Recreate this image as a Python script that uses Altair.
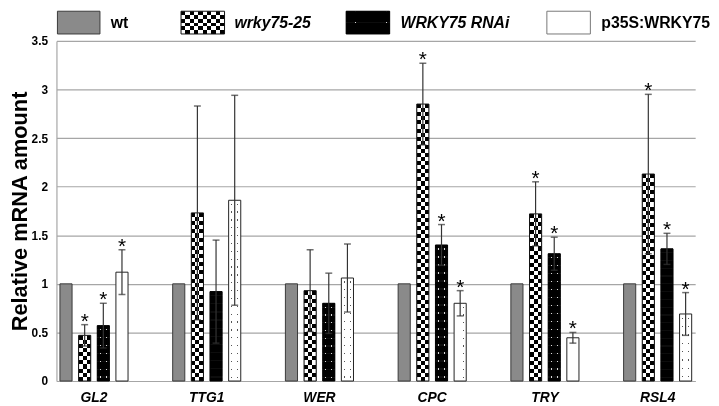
import altair as alt
import pandas as pd

FONT = "Liberation Sans"

# ---------------- data ----------------
genes = ["GL2", "TTG1", "WER", "CPC", "TRY", "RSL4"]
series = ["wt", "wrky75-25", "WRKY75 RNAi", "p35S:WRKY75"]

wt_vals = [1, 1, 1, 1, 1, 1]
wt_err = [0, 0, 0, 0, 0, 0]
wrky_vals = [0.47, 1.73, 0.93, 2.85, 1.72, 2.13]
wrky_err = [0.11, 1.10, 0.42, 0.42, 0.33, 0.82]
rnai_vals = [0.57, 0.92, 0.80, 1.40, 1.31, 1.36]
rnai_err = [0.23, 0.53, 0.31, 0.21, 0.17, 0.16]
p35_vals = [1.12, 1.86, 1.06, 0.80, 0.445, 0.69]
p35_err = [0.23, 1.08, 0.35, 0.13, 0.055, 0.22]
wt_sig = [0, 0, 0, 0, 0, 0]
wrky_sig = [1, 0, 0, 1, 1, 1]
rnai_sig = [1, 0, 0, 1, 1, 1]
p35_sig = [1, 0, 0, 1, 1, 1]

y_ticks = [0, 0.5, 1, 1.5, 2, 2.5, 3, 3.5]

rows = []
for s, vals, errs, sigs in [
    ("wt", wt_vals, wt_err, wt_sig),
    ("wrky75-25", wrky_vals, wrky_err, wrky_sig),
    ("WRKY75 RNAi", rnai_vals, rnai_err, rnai_sig),
    ("p35S:WRKY75", p35_vals, p35_err, p35_sig),
]:
    for g, v, e, sg in zip(genes, vals, errs, sigs):
        rows.append({"gene": g, "series": s, "value": v, "lo": v - e, "hi": v + e, "sig": sg})
df = pd.DataFrame(rows)

# ---------------- layout / style ----------------
W, H = 646, 344
PX_PER_UNIT = H / 3.5
CELL = 4.1        # checkerboard cell (px)
DOT_ROW = 8.0     # dot row pitch (px)


def _grad(stops, along_y):
    if along_y:
        return alt.LinearGradient(gradient="linear", stops=stops, x1=0, x2=0, y1=0, y2=1)
    return alt.LinearGradient(gradient="linear", stops=stops, x1=0, x2=1, y1=0, y2=0)


def stripes(n, along_y):
    stops = []
    for i in range(n):
        c = "#000000" if i % 2 == 0 else "#ffffff"
        stops.append(alt.GradientStop(color=c, offset=i / n))
        stops.append(alt.GradientStop(color=c, offset=(i + 1) / n))
    return _grad(stops, along_y)


def thin_lines(n, duty, bg, fg, along_y):
    """n periods, each with a thin fg band in its middle on bg."""
    stops = []
    for i in range(n):
        a = i / n
        b = (i + 1) / n
        m0 = a + (b - a) * (0.5 - duty / 2)
        m1 = a + (b - a) * (0.5 + duty / 2)
        stops += [alt.GradientStop(color=bg, offset=a), alt.GradientStop(color=bg, offset=m0),
                  alt.GradientStop(color=fg, offset=m0), alt.GradientStop(color=fg, offset=m1),
                  alt.GradientStop(color=bg, offset=m1), alt.GradientStop(color=bg, offset=b)]
    return _grad(stops, along_y)


xscale = alt.Scale(domain=genes, paddingInner=0.396, paddingOuter=0.031)
xoscale = alt.Scale(domain=series, paddingInner=0.35, paddingOuter=0)
yscale = alt.Scale(domain=[0, 3.5], nice=False, zero=True)
xaxis = alt.Axis(labelFont=FONT, labelFontSize=14, labelFontWeight="bold", labelFontStyle="italic",
                 labelColor="black", labelPadding=10, ticks=False, domainColor="#a6a6a6",
                 domainWidth=1.2, labelAngle=0, grid=False)
yaxis = alt.Axis(values=y_ticks, format="~g", grid=True, gridColor="#a6a6a6", gridWidth=1.2,
                 domainColor="#a6a6a6", domainWidth=1.2, ticks=False, labelFont=FONT,
                 labelFontSize=12, labelFontWeight="bold", labelColor="black", labelPadding=9,
                 titleFont=FONT, titleFontSize=22, titleFontWeight="bold", titleColor="black",
                 titlePadding=0)

X = alt.X("gene:N", scale=xscale, axis=xaxis, title=None)
XO = alt.XOffset("series:N", scale=xoscale)


def Y(field):
    return alt.Y(f"{field}:Q", scale=yscale, axis=yaxis, title="Relative mRNA amount")


base = alt.Chart(df)
layers = []


def bars(series_name, **mark):
    return base.transform_filter(f"datum.series == '{series_name}'").mark_bar(**mark).encode(
        x=X, xOffset=XO, y=Y("value"))


def one_bar(series_name, gene, **mark):
    return base.transform_filter(
        f"datum.series == '{series_name}' && datum.gene == '{gene}'").mark_bar(**mark).encode(
        x=X, xOffset=XO, y=Y("value"))


# wt: grey
layers.append(bars("wt", fill="#8a8a8a", stroke="#3a3a3a", strokeWidth=1))

# RNAi: black with sparse white dots (white columns x white rows, multiply)
layers.append(bars("WRKY75 RNAi", fill=thin_lines(2, 0.11, "#0d0d0d", "#d8d8d8", False)))
for g, v in zip(genes, rnai_vals):
    n = max(1, round(v * PX_PER_UNIT / DOT_ROW))
    layers.append(one_bar("WRKY75 RNAi", g, fill=thin_lines(n, 0.15, "#000000", "#ffffff", True),
                          blend="multiply"))
layers.append(bars("WRKY75 RNAi", filled=False, stroke="#000000", strokeWidth=1))

# p35S: white with sparse dark dots (dark columns x dark rows, screen)
layers.append(bars("p35S:WRKY75", fill=thin_lines(2, 0.11, "#ffffff", "#555555", False)))
for g, v in zip(genes, p35_vals):
    n = max(1, round(v * PX_PER_UNIT / DOT_ROW))
    layers.append(one_bar("p35S:WRKY75", g, fill=thin_lines(n, 0.15, "#ffffff", "#000000", True),
                          blend="screen"))
layers.append(bars("p35S:WRKY75", filled=False, stroke="#222222", strokeWidth=1))

# wrky75-25: checkerboard (columns + inverted rows)
layers.append(bars("wrky75-25", fill=stripes(3, False)))
for g, v in zip(genes, wrky_vals):
    n = max(1, round(v * PX_PER_UNIT / CELL))
    layers.append(one_bar("wrky75-25", g, fill=stripes(n, True), blend="difference"))
layers.append(bars("wrky75-25", filled=False, stroke="#111111", strokeWidth=1))

# error bars + significance stars
err = base.transform_filter("datum.series != 'wt'")
layers.append(err.mark_rule(color="#333333", strokeWidth=1.2).encode(
    x=X, xOffset=XO, y=Y("lo"), y2="hi:Q"))
layers.append(err.mark_tick(color="#333333", thickness=1.5, size=7, orient="horizontal").encode(
    x=X, xOffset=XO, y=Y("hi")))
layers.append(err.mark_tick(color="#333333", thickness=1.5, size=7, orient="horizontal").encode(
    x=X, xOffset=XO, y=Y("lo")))
layers.append(base.transform_filter("datum.sig == 1").mark_text(
    text="*", fontSize=21, font=FONT, baseline="alphabetic", dy=3, color="black").encode(
    x=X, xOffset=XO, y=Y("hi")))

# ---------------- legend (manual, styled like the original) ----------------
LEG_Y0, LEG_Y1 = -30, -7
LEG_TY = (LEG_Y0 + LEG_Y1) / 2
leg_pos = {"wt": (1, 44, 55), "wrky75-25": (126, 170, 180),
           "WRKY75 RNAi": (293, 337, 348), "p35S:WRKY75": (496, 540, 551)}
leg_italic = {"wt": False, "wrky75-25": True, "WRKY75 RNAi": True, "p35S:WRKY75": False}
leg_stroke = {"wt": "#3a3a3a", "wrky75-25": "#111111", "WRKY75 RNAi": "#000000", "p35S:WRKY75": "#777777"}

for s in series:
    x0, x1, tx = leg_pos[s]
    one = alt.Chart(pd.DataFrame({"label": [s]}))
    box = dict(x=alt.value(x0), x2=alt.value(x1), y=alt.value(LEG_Y0), y2=alt.value(LEG_Y1))
    if s == "wrky75-25":
        layers.append(one.mark_rect(fill=stripes(10, False)).encode(**box))
        layers.append(one.mark_rect(fill=stripes(6, True), blend="difference").encode(**box))
    elif s == "WRKY75 RNAi":
        layers.append(one.mark_rect(fill=thin_lines(7, 0.03, "#0d0d0d", "#d8d8d8", False)).encode(**box))
        layers.append(one.mark_rect(fill=thin_lines(3, 0.06, "#000000", "#ffffff", True),
                                    blend="multiply").encode(**box))
    elif s == "p35S:WRKY75":
        layers.append(one.mark_rect(fill=thin_lines(7, 0.03, "#ffffff", "#555555", False)).encode(**box))
        layers.append(one.mark_rect(fill=thin_lines(3, 0.06, "#ffffff", "#000000", True),
                                    blend="screen").encode(**box))
    else:
        layers.append(one.mark_rect(fill="#8a8a8a").encode(**box))
    layers.append(one.mark_rect(filled=False, stroke=leg_stroke[s], strokeWidth=1).encode(**box))
    layers.append(one.mark_text(align="left", baseline="middle", font=FONT, fontSize=16,
                                fontWeight="bold", fontStyle="italic" if leg_italic[s] else "normal",
                                color="black").encode(
        x=alt.value(tx), y=alt.value(LEG_TY), text="label:N"))

chart = alt.layer(*layers).properties(width=W, height=H, padding=0).configure_view(strokeWidth=0)

chart.save("out.html", embed_options={"renderer": "svg", "actions": False})
